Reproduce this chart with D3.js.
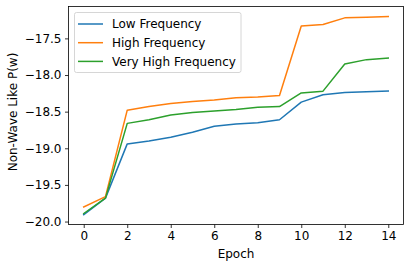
<!DOCTYPE html>
<html>
<head>
<meta charset="utf-8">
<script src="https://cdn.jsdelivr.net/npm/d3@7"></script>
<style>
  html, body { margin: 0; padding: 0; background: #fff; }
  svg { display: block; font-family: "DejaVu Sans", sans-serif; }
</style>
</head>
<body>
<svg id="chart" width="409" height="268"></svg>
<script>
const epochs = [0,1,2,3,4,5,6,7,8,9,10,11,12,13,14];
const lowFrequency = [-19.905,-19.68,-18.94,-18.90,-18.85,-18.78,-18.70,-18.67,-18.65,-18.61,-18.37,-18.27,-18.24,-18.23,-18.22];
const highFrequency = [-19.80,-19.66,-18.48,-18.43,-18.39,-18.36,-18.34,-18.31,-18.30,-18.28,-17.33,-17.31,-17.22,-17.21,-17.20];
const veryHighFrequency = [-19.89,-19.68,-18.66,-18.61,-18.545,-18.51,-18.49,-18.47,-18.44,-18.43,-18.245,-18.22,-17.85,-17.79,-17.77];
const seriesNames = ["Low Frequency","High Frequency","Very High Frequency"];
const seriesColors = ["#1f77b4","#ff7f0e","#2ca02c"];
const xTicks = [0,2,4,6,8,10,12,14];
const yTicks = [-20.0,-19.5,-19.0,-18.5,-18.0,-17.5];

(function() {
const series = [lowFrequency, highFrequency, veryHighFrequency];
const svg = d3.select("#chart");
const mLeft = 68.5, mRight = 403.5, mTop = 6.5, mBottom = 224.5;

const allVals = series.flat();
const ymin = d3.min(allVals), ymax = d3.max(allVals);
const ypad = (ymax - ymin) * 0.05;
const x = d3.scaleLinear().domain([-0.7, 14.7]).range([mLeft, mRight]);
const y = d3.scaleLinear().domain([ymin - ypad, ymax + ypad]).range([mBottom, mTop]);

const fontSize = 12;

const xAxis = svg.append("g").attr("transform", `translate(0,${mBottom})`)
  .call(d3.axisBottom(x).tickValues(xTicks).tickSize(3.5).tickPadding(3.5).tickFormat(d3.format("d")));
const yAxis = svg.append("g").attr("transform", `translate(${mLeft},0)`)
  .call(d3.axisLeft(y).tickValues(yTicks).tickSize(3.5).tickPadding(3.5)
    .tickFormat(d => d3.format(".1f")(d).replace("-", "\u2212")));
[xAxis, yAxis].forEach(a => {
  a.select(".domain").remove();
  a.selectAll("line").attr("stroke", "#000").attr("stroke-width", 0.8);
  a.selectAll("text").attr("font-size", fontSize).attr("fill", "#000").attr("font-family", "DejaVu Sans");
});

svg.append("rect").attr("x", mLeft).attr("y", mTop).attr("width", mRight-mLeft).attr("height", mBottom-mTop)
  .attr("fill", "none").attr("stroke", "#000").attr("stroke-width", 0.8);

const line = d3.line().x((d,i) => x(epochs[i])).y(d => y(d));
series.forEach((s, k) => {
  svg.append("path").datum(s).attr("d", line)
    .attr("fill", "none").attr("stroke", seriesColors[k]).attr("stroke-width", 1.5)
    .attr("stroke-linejoin", "round").attr("stroke-linecap", "square");
});

svg.append("text").attr("x", (mLeft+mRight)/2).attr("y", 258).attr("text-anchor", "middle")
  .attr("font-size", fontSize).text("Epoch");
svg.append("text").attr("transform", `translate(17,112) rotate(-90)`)
  .attr("text-anchor", "middle").attr("font-size", fontSize).text("Non-Wave Like P(w)");

const lg = svg.append("g");
lg.append("rect").attr("x", 74.5).attr("y", 12.5).attr("width", 166.5).attr("height", 60)
  .attr("rx", 2).attr("fill", "#fff").attr("fill-opacity", 0.8).attr("stroke", "#ccc").attr("stroke-width", 0.8);
seriesNames.forEach((n, k) => {
  const cy = 24 + k * 18.7;
  lg.append("line").attr("x1", 78).attr("x2", 103).attr("y1", cy).attr("y2", cy)
    .attr("stroke", seriesColors[k]).attr("stroke-width", 1.5);
  lg.append("text").attr("x", 112).attr("y", cy).attr("dy", "0.35em").attr("font-size", fontSize).text(n);
});
})();
</script>
</body>
</html>
